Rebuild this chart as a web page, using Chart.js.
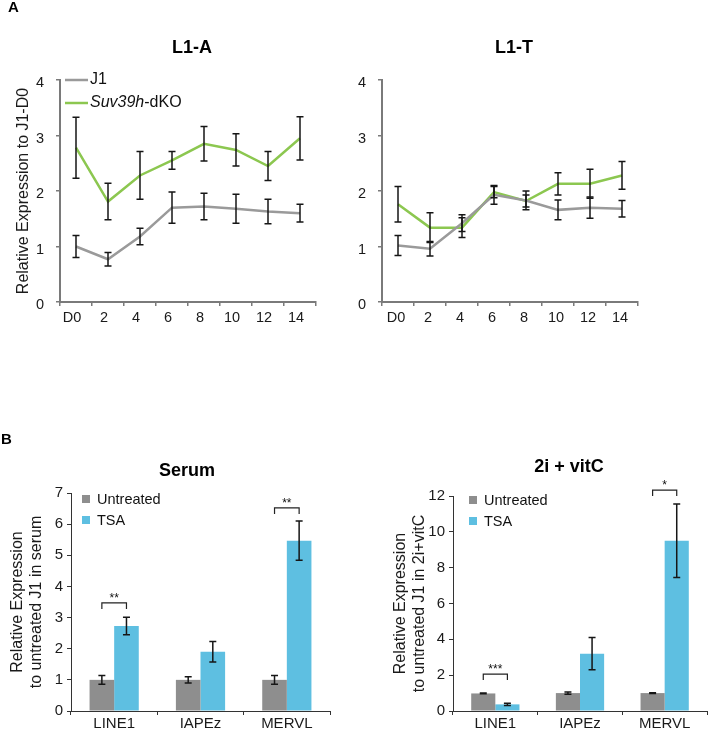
<!DOCTYPE html>
<html><head><meta charset="utf-8">
<script src="https://cdn.jsdelivr.net/npm/chart.js@4.4.0/dist/chart.umd.min.js"></script>
<style>
html,body{margin:0;padding:0;background:#fff;}
#wrap{position:relative;width:708px;height:729px;overflow:hidden;background:#fff;}
canvas{position:absolute;}
</style></head><body>
<div id="wrap">
<canvas id="cA1" width="354" height="330" style="left:0;top:0"></canvas>
<canvas id="cA2" width="354" height="330" style="left:354px;top:0"></canvas>
<canvas id="cB1" width="354" height="399" style="left:0;top:330px"></canvas>
<canvas id="cB2" width="354" height="399" style="left:354px;top:330px"></canvas>
</div>
<script>
// ---------- data ----------
const days = ['D0','2','4','6','8','10','12','14'];
const l1aJ1     = [1.00,0.77,1.18,1.70,1.72,1.68,1.63,1.60];
const l1aJ1Err  = [0.20,0.12,0.15,0.28,0.24,0.26,0.22,0.16];
const l1aKO     = [2.78,1.81,2.28,2.55,2.85,2.74,2.45,2.95];
const l1aKOErr  = [0.55,0.33,0.43,0.16,0.31,0.29,0.26,0.39];
const l1tJ1     = [1.02,0.96,1.42,1.93,1.83,1.66,1.70,1.68];
const l1tJ1Err  = [0.18,0.13,0.15,0.17,0.17,0.18,0.19,0.15];
const l1tKO     = [1.76,1.34,1.34,1.98,1.82,2.13,2.13,2.28];
const l1tKOErr  = [0.32,0.27,0.18,0.10,0.11,0.20,0.26,0.25];
const lineTicksY = [0,1,2,3,4];

const genes = ['LINE1','IAPEz','MERVL'];
const serumUntreated    = [1.00,1.00,1.00];
const serumUntreatedErr = [0.14,0.10,0.14];
const serumTSA          = [2.73,1.90,5.47];
const serumTSAErr       = [0.28,0.33,0.63];
const vitcUntreated     = [0.98,1.00,1.00];
const vitcUntreatedErr  = [0.02,0.06,0.02];
const vitcTSA           = [0.37,3.20,9.50];
const vitcTSAErr        = [0.06,0.90,2.05];

const serumSigGenes  = ['LINE1','MERVL'];
const serumSigTop    = [3.47,6.52];
const serumSigLabels = ['**','**'];
const vitcSigGenes   = ['LINE1','MERVL'];
const vitcSigTop     = [2.06,12.33];
const vitcSigLabels  = ['***','*'];

// ---------- styling ----------
const FF = '"Liberation Sans", Arial, Helvetica, sans-serif';
Chart.defaults.font.family = FF;
Chart.defaults.color = '#1a1a1a';
Chart.defaults.animation = false;
const GRAY_LINE = '#9a9a9a', GREEN_LINE = '#8cc750';
const GRAY_BAR = '#8e8e8e', BLUE_BAR = '#5ebfe1';

const errorBarPlugin = {
  id: 'errorBars',
  afterDatasetsDraw(chart) {
    const ctx = chart.ctx, ys = chart.scales.y;
    ctx.save();
    ctx.strokeStyle = '#161616';
    ctx.lineWidth = 1.5;
    chart.data.datasets.forEach((ds, di) => {
      if (!ds.errors) return;
      const meta = chart.getDatasetMeta(di);
      meta.data.forEach((el, i) => {
        const v = ds.data[i], e = ds.errors[i];
        const x = el.x;
        const yt = ys.getPixelForValue(v + e), yb = ys.getPixelForValue(v - e);
        ctx.beginPath();
        ctx.moveTo(x, yt); ctx.lineTo(x, yb);
        ctx.moveTo(x - 3.5, yt); ctx.lineTo(x + 3.5, yt);
        ctx.moveTo(x - 3.5, yb); ctx.lineTo(x + 3.5, yb);
        ctx.stroke();
      });
    });
    ctx.restore();
  }
};

function decor(cfg) {
  return {
    id: 'decor',
    afterDraw(chart) {
      const ctx = chart.ctx;
      ctx.save();
      ctx.fillStyle = '#000';
      ctx.textBaseline = 'middle';
      if (cfg.letter) {
        ctx.font = 'bold 15px ' + FF; ctx.textAlign = 'left';
        ctx.fillText(cfg.letter, cfg.letterX, cfg.letterY);
      }
      if (cfg.title) {
        ctx.font = 'bold 18px ' + FF; ctx.textAlign = 'center';
        ctx.fillText(cfg.title, cfg.titleX, cfg.titleY);
      }
      if (cfg.lineLegend) {
        const L = cfg.lineLegend;
        chart.data.datasets.forEach((ds, i) => {
          const y = L.y + i * L.gap;
          ctx.strokeStyle = ds.borderColor; ctx.lineWidth = 2.5;
          ctx.beginPath(); ctx.moveTo(L.x, y); ctx.lineTo(L.x + 23, y); ctx.stroke();
          ctx.fillStyle = '#111'; ctx.textAlign = 'left';
          let tx = L.x + 25;
          let label = ds.label;
          if (L.italic && label.startsWith(L.italic)) {
            ctx.font = 'italic 16px ' + FF;
            ctx.fillText(L.italic, tx, y);
            tx += ctx.measureText(L.italic).width;
            label = label.slice(L.italic.length);
          }
          ctx.font = '16px ' + FF;
          ctx.fillText(label, tx, y);
        });
      }
      if (cfg.boxLegend) {
        const L = cfg.boxLegend;
        chart.data.datasets.forEach((ds, i) => {
          const y = L.y + i * L.gap;
          ctx.fillStyle = ds.backgroundColor;
          ctx.fillRect(L.x, y - 4, 8, 8);
          ctx.fillStyle = '#111'; ctx.textAlign = 'left';
          ctx.font = '14.5px ' + FF;
          ctx.fillText(ds.label, L.x + 15, y + 1);
        });
      }
      if (cfg.brackets) {
        const B = cfg.brackets, ys = chart.scales.y;
        const m0 = chart.getDatasetMeta(0), m1 = chart.getDatasetMeta(1);
        ctx.strokeStyle = '#222'; ctx.lineWidth = 1.2;
        B.genes.forEach((g, k) => {
          const idx = chart.data.labels.indexOf(g);
          const x0 = m0.data[idx].x, x1 = m1.data[idx].x;
          const yt = ys.getPixelForValue(B.tops[k]);
          ctx.beginPath();
          ctx.moveTo(x0, yt + 6); ctx.lineTo(x0, yt); ctx.lineTo(x1, yt); ctx.lineTo(x1, yt + 6);
          ctx.stroke();
          ctx.fillStyle = '#111'; ctx.textAlign = 'center'; ctx.textBaseline = 'alphabetic';
          ctx.font = '12px ' + FF;
          ctx.fillText(B.labels[k], (x0 + x1) / 2, yt - 1);
          ctx.textBaseline = 'middle';
        });
      }
      ctx.restore();
    }
  };
}

function lineScales(yWidth, titleText, titlePad, xLabelOffset) {
  return {
    x: {
      type: 'category', offset: true,
      grid: { offset: true, drawOnChartArea: false, drawTicks: true, tickLength: 4, color: '#7a7a7a', lineWidth: 1.5 },
      border: { display: true, color: '#7a7a7a', width: 2 },
      ticks: { font: { size: 14.5 }, color: '#1a1a1a', padding: 3, maxRotation: 0, autoSkip: false, labelOffset: xLabelOffset },
      afterFit: s => { s.height = 28; }
    },
    y: {
      min: 0, max: 4,
      afterBuildTicks: s => { s.ticks = lineTicksY.map(v => ({ value: v })); },
      grid: { drawOnChartArea: false, drawTicks: true, tickLength: 4, color: '#7a7a7a', lineWidth: 1.5 },
      border: { display: true, color: '#7a7a7a', width: 2 },
      ticks: { font: { size: 14.5 }, color: '#1a1a1a', padding: 12, labelOffset: 3 },
      title: { display: !!titleText, text: titleText, font: { size: 16 }, color: '#1a1a1a', padding: { top: titlePad, bottom: 0 } },
      afterFit: s => { s.width = yWidth; }
    }
  };
}

function lineDatasets(j1, j1e, ko, koe) {
  return [
    { label: 'J1', data: j1, errors: j1e, borderColor: GRAY_LINE, backgroundColor: GRAY_LINE, borderWidth: 2.5, pointRadius: 0, tension: 0, fill: false },
    { label: 'Suv39h-dKO', data: ko, errors: koe, borderColor: GREEN_LINE, backgroundColor: GREEN_LINE, borderWidth: 2.5, pointRadius: 0, tension: 0, fill: false }
  ];
}

new Chart(document.getElementById('cA1'), {
  type: 'line',
  data: { labels: days, datasets: lineDatasets(l1aJ1, l1aJ1Err, l1aKO, l1aKOErr) },
  options: {
    responsive: false, animation: false,
    layout: { padding: { left: 0, top: 80, right: 38, bottom: 0 } },
    plugins: { legend: { display: false }, tooltip: { enabled: false } },
    scales: lineScales(60, 'Relative Expression to J1-D0', 13.5, -4)
  },
  plugins: [errorBarPlugin, decor({ letter: 'A', letterX: 8, letterY: 8, title: 'L1-A', titleX: 192, titleY: 48,
    lineLegend: { x: 65, y: 80, gap: 23, italic: 'Suv39h' } })]
});

new Chart(document.getElementById('cA2'), {
  type: 'line',
  data: { labels: days, datasets: lineDatasets(l1tJ1, l1tJ1Err, l1tKO, l1tKOErr) },
  options: {
    responsive: false, animation: false,
    layout: { padding: { left: 0, top: 80, right: 70, bottom: 0 } },
    plugins: { legend: { display: false }, tooltip: { enabled: false } },
    scales: lineScales(28, '', 0, -2)
  },
  plugins: [errorBarPlugin, decor({ title: 'L1-T', titleX: 160, titleY: 48 })]
});

function barScales(yWidth, yMax, yStep, titleLines, titlePad) {
  return {
    x: {
      type: 'category', offset: true,
      grid: { offset: true, drawOnChartArea: false, drawTicks: true, tickLength: 4, color: '#333', lineWidth: 1 },
      border: { display: true, color: '#333', width: 1 },
      ticks: { font: { size: 15 }, color: '#1a1a1a', padding: 0, maxRotation: 0, autoSkip: false },
      afterFit: s => { s.height = 18; }
    },
    y: {
      min: 0, max: yMax,
      ticks: { stepSize: yStep, font: { size: 15 }, color: '#1a1a1a', padding: 4 },
      grid: { drawOnChartArea: false, drawTicks: true, tickLength: 4, color: '#333', lineWidth: 1 },
      border: { display: true, color: '#333', width: 1 },
      title: { display: true, text: titleLines, font: { size: 16, lineHeight: 1.2 }, color: '#1a1a1a', padding: { top: titlePad, bottom: 0 } },
      afterFit: s => { s.width = yWidth; }
    }
  };
}

function barDatasets(u, ue, t, te) {
  return [
    { label: 'Untreated', data: u, errors: ue, backgroundColor: GRAY_BAR, borderWidth: 0, categoryPercentage: 0.57, barPercentage: 1.0 },
    { label: 'TSA', data: t, errors: te, backgroundColor: BLUE_BAR, borderWidth: 0, categoryPercentage: 0.57, barPercentage: 1.0 }
  ];
}

new Chart(document.getElementById('cB1'), {
  type: 'bar',
  data: { labels: genes, datasets: barDatasets(serumUntreated, serumUntreatedErr, serumTSA, serumTSAErr) },
  options: {
    responsive: false, animation: false,
    layout: { padding: { left: 0, top: 163, right: 24, bottom: 0 } },
    plugins: { legend: { display: false }, tooltip: { enabled: false } },
    scales: barScales(71, 7, 1, ['Relative Expression', 'to untreated J1 in serum'], 7.5)
  },
  plugins: [errorBarPlugin, decor({ letter: 'B', letterX: 1, letterY: 110, title: 'Serum', titleX: 187, titleY: 141,
    boxLegend: { x: 82, y: 169, gap: 21 },
    brackets: { genes: serumSigGenes, tops: serumSigTop, labels: serumSigLabels } })]
});

new Chart(document.getElementById('cB2'), {
  type: 'bar',
  data: { labels: genes, datasets: barDatasets(vitcUntreated, vitcUntreatedErr, vitcTSA, vitcTSAErr) },
  options: {
    responsive: false, animation: false,
    layout: { padding: { left: 0, top: 166, right: 1, bottom: 0 } },
    plugins: { legend: { display: false }, tooltip: { enabled: false } },
    scales: barScales(99, 12, 2, ['Relative Expression', 'to untreated J1 in 2i+vitC'], 36.5)
  },
  plugins: [errorBarPlugin, decor({ title: '2i + vitC', titleX: 215, titleY: 137,
    boxLegend: { x: 115, y: 170, gap: 21 },
    brackets: { genes: vitcSigGenes, tops: vitcSigTop, labels: vitcSigLabels } })]
});
</script>
</body></html>
